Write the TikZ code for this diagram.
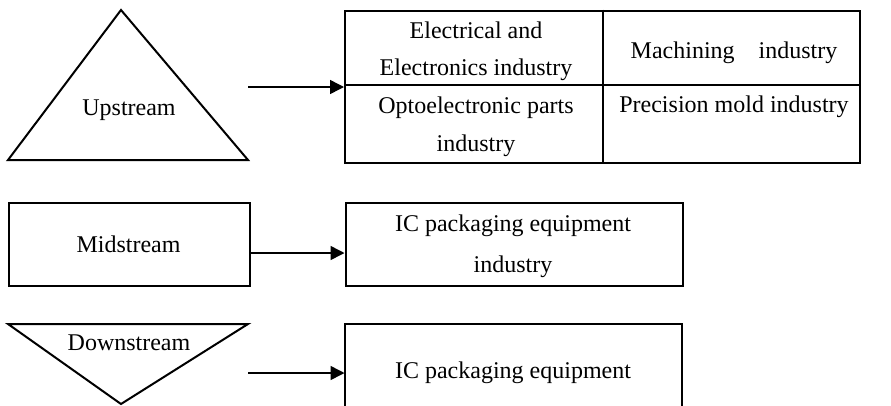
\documentclass[tikz,border=0pt]{standalone}
\usepackage{fontspec}
\setmainfont{Liberation Serif}
\usetikzlibrary{arrows.meta}
\begin{document}
\begin{tikzpicture}[x=1pt,y=-1pt,line width=2pt,line join=miter,
  txt/.style={align=center,inner sep=0pt,font=\fontsize{24}{38}\selectfont},
  txtwide/.style={txt,font=\fontsize{24}{41}\selectfont},
  boxshape/.style={draw,inner sep=0pt,anchor=north west},
  arr/.style={-{Triangle[length=14pt,width=14pt]},line width=1.5pt}]
\useasboundingbox (0,0) rectangle (891,405);
% Upstream
\draw (121,10) -- (248,160) -- (8,160) -- cycle;
\node[txt] (up) at (129,110) {Upstream};
\coordinate (a1s) at (248,87);
% table
\node[boxshape,minimum width=515pt,minimum height=152pt] (tbl) at (344,9.5) {};
\draw (603,9.5) -- (603,161.5);
\draw (344,85) -- (859,85);
\node[txt,font=\fontsize{24}{37}\selectfont] (c11) at (476,51.5) {Electrical and\\Electronics industry};
\node[txt] (c12) at (734,53) {Machining\hspace{1em}industry};
\node[txt] (c21) at (476,127) {Optoelectronic parts\\industry};
\node[txt] (c22) at (734,107) {Precision mold industry};
\draw[arr] (a1s) -- (a1s -| tbl.west);
% Midstream
\node[boxshape,minimum width=241pt,minimum height=83pt] (mid) at (8,202) {};
\node[txt] (midt) at (128.5,244) {Midstream};
\node[boxshape,minimum width=337pt,minimum height=83pt] (ic1) at (344.5,202) {};
\node[txtwide] (ic1t) at (513,246.5) {IC packaging equipment\\industry};
\coordinate (a2s) at (249,253);
\draw[arr] (a2s) -- (a2s -| ic1.west);
% Downstream
\draw (8,324) -- (248,324) -- (121,404) -- cycle;
\node[txt] (down) at (129,343) {Downstream};
\coordinate (a3s) at (248,373);
\draw (344.5,406) -- (344.5,324) -- (681.5,324) -- (681.5,406);
\coordinate (ic2w) at (344.5,373);
\node[txt] (ic2) at (513,373) {IC packaging equipment};
\draw[arr] (a3s) -- (ic2w);
\end{tikzpicture}
\end{document}
